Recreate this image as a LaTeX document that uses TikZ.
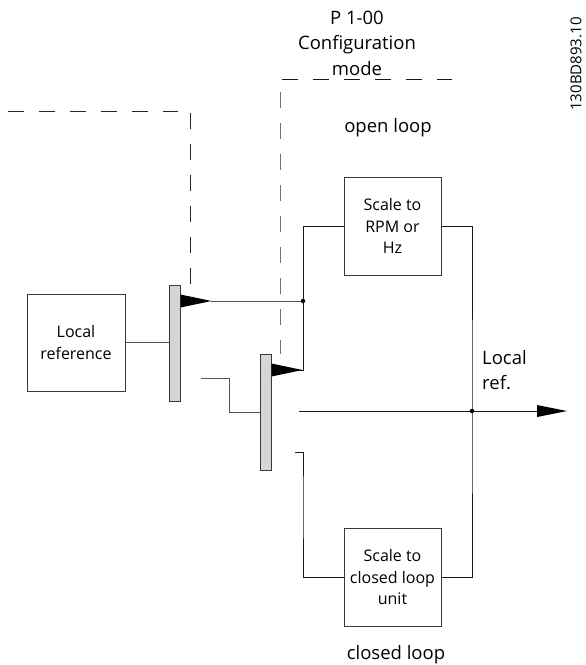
\documentclass[tikz,border=0pt]{standalone}
\usepackage{fontspec}
\setmainfont{Open Sans}
\usetikzlibrary{calc}
\definecolor{barfill}{HTML}{D4D5D7}
\definecolor{edge}{HTML}{3A3A3A}
\definecolor{wirec}{HTML}{1A1A1A}
\definecolor{greywire}{HTML}{555555}
\definecolor{greydash}{HTML}{707070}
\begin{document}
\begin{tikzpicture}[x=1pt,y=-1pt,
  box/.style={draw=edge, line width=1pt, minimum width=97pt, minimum height=97pt,
    inner sep=0pt, align=center, font=\fontsize{16}{21.5}\selectfont},
  bar/.style={draw=edge, fill=barfill, line width=1pt, minimum width=11pt,
    minimum height=116pt, inner sep=0pt},
  wire/.style={draw=wirec, line width=1pt},
  gwire/.style={draw=greywire, line width=1pt},
  ctrl/.style={line width=1pt, dash pattern=on 16pt off 15pt},
  lbl/.style={inner sep=0pt, align=center, font=\fontsize{18.5}{25.5}\selectfont},
  dotnode/.style={circle, fill=black, inner sep=0pt, minimum size=4.5pt}]
\useasboundingbox (0,0) rectangle (586,665);

% blocks
\node[box, minimum width=98pt] (locref) at (76,342.5) {Local\\reference};
\node[box, minimum height=98pt] (rpm) at (392.5,226) {Scale to\\RPM or\\Hz};
\node[box, minimum height=98pt] (closed) at (392.5,577) {Scale to\\closed loop\\unit};
\node[bar] (bar1) at (174.5,343) {};
\node[bar] (bar2) at (265.5,412) {};

% labels
\node[lbl] (p100) at (357,43) {P 1-00\\Configuration\\mode};
\node[lbl] (openl) at (388,128) {open loop};
\node[lbl] (closedl) at (396,655) {closed loop};
\node[lbl, anchor=west, align=left] (localref) at (482,370) {Local\\ref.};
\node[inner sep=0pt, rotate=90, font=\fontsize{15}{15}\selectfont] (code) at (576,64) {130BD893.10};

% control (dashed) lines
\draw[ctrl, draw=black!85] (8,111) -- (178,111);
\draw[ctrl, draw=black!85] (190,113) -- (190,285);
\draw[ctrl, draw=black!90] (282,79) -- (452,79);
\draw[ctrl, draw=greydash] (280,92) -- (280,354);

% coordinates
\coordinate (j1) at (303,301);
\coordinate (j2) at (472,411);
\coordinate (w1) at (bar1.east |- j1);
\coordinate (w2) at ($(bar2.east)+(0,-42)$);
\coordinate (c2) at (j1 |- w2);
\coordinate (in2) at (201,378);
\coordinate (in3) at (295,452);
\coordinate (out0) at (299,411);
\coordinate (outhead) at (537,411);

% wires
\draw[gwire] (locref.east) -- (locref.east -| bar1.west);
\draw[gwire] ($(w1)+(30,0)$) -- (j1);
\draw[wire] (rpm.west) -| (c2) -- (w2);
\draw[gwire] (in2) -- (229,378) |- (bar2.west);
\draw[wire] (out0) -- (outhead);
\draw[wire] (rpm.east) -| (j2) |- (closed.east);
\draw[wire] (in3) -| (303,500) |- (closed.west);

% wedges (arrow heads)
\fill ($(w1)+(0,-6.5)$) .. controls ($(w1)+(16,-3)$) .. ($(w1)+(31,0)$)
      .. controls ($(w1)+(16,3)$) .. ($(w1)+(0,6.5)$) -- cycle;
\fill ($(w2)+(0,-6.5)$) .. controls ($(w2)+(16,-3)$) .. ($(w2)+(31,0)$)
      .. controls ($(w2)+(16,3)$) .. ($(w2)+(0,6.5)$) -- cycle;
\fill ($(outhead)+(0,-6)$) .. controls ($(outhead)+(15,-2.8)$) .. ($(outhead)+(30,0)$)
      .. controls ($(outhead)+(15,2.8)$) .. ($(outhead)+(0,6)$) -- cycle;

% junction dots
\node[dotnode] (d1) at (j1) {};
\node[dotnode] (d2) at (j2) {};
\end{tikzpicture}
\end{document}
